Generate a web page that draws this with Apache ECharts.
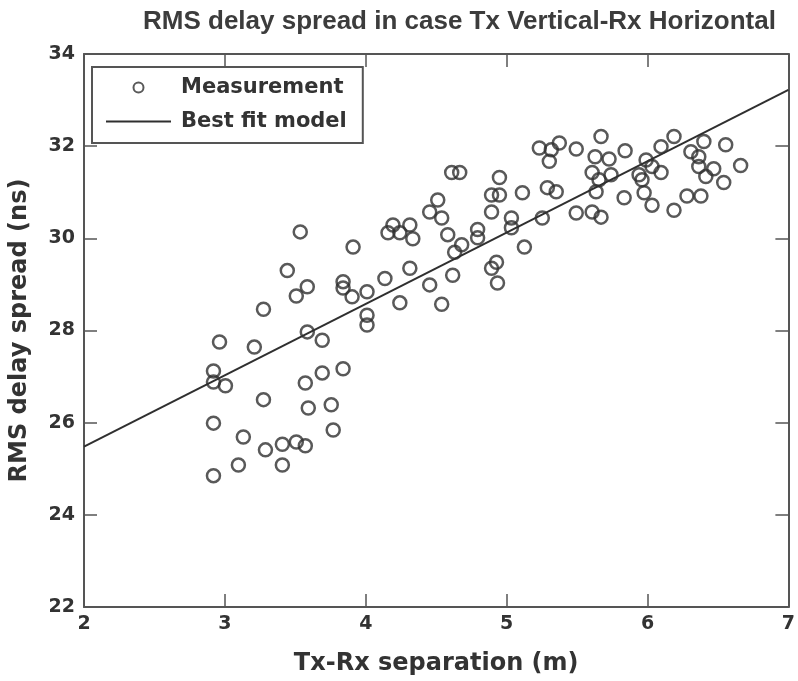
<!DOCTYPE html>
<html><head><meta charset="utf-8">
<script src="https://cdn.jsdelivr.net/npm/echarts@6/dist/echarts.min.js"></script>
<style>html,body{margin:0;padding:0;background:#fff}#c{width:798px;height:681px}</style>
</head><body><div id="c"></div>
<script>
const title = "RMS delay spread in case Tx Vertical-Rx Horizontal";
const xName = "Tx-Rx separation (m)";
const yName = "RMS delay spread (ns)";
const xTicks = [2, 3, 4, 5, 6, 7];
const yTicks = [22, 24, 26, 28, 30, 32, 34];
const measX = [
3.535,3.910,3.443,3.585,3.507,3.839,3.839,3.903,4.009,4.009,4.009,3.274,2.962,3.209,3.585,3.691,
2.919,2.919,3.004,3.274,3.571,3.691,3.839,3.592,3.755,2.919,3.769,3.131,3.288,3.408,3.507,3.571,
3.096,3.408,2.919,
4.610,4.667,4.949,4.893,4.949,4.893,5.112,5.303,5.317,5.289,5.352,4.511,4.454,4.539,4.193,4.313,
4.158,4.242,4.334,4.582,4.794,4.794,5.034,5.034,4.681,4.631,5.253,5.126,4.313,4.136,4.928,4.893,
4.935,4.617,4.454,4.242,4.539,
5.232,5.374,5.494,5.670,5.628,5.727,5.841,5.607,5.656,5.741,5.635,5.494,5.607,5.670,5.834,5.990,
6.032,5.940,5.961,6.096,6.188,6.096,5.976,6.032,6.188,6.308,6.364,6.400,6.364,6.414,6.470,6.541,
6.555,6.280,6.379,6.661
];
const measY = [
30.14,29.81,29.30,28.95,28.75,29.06,28.92,28.73,28.84,28.33,28.12,28.46,27.75,27.64,27.97,27.79,
27.12,26.88,26.80,26.50,26.86,27.08,27.17,26.32,26.39,25.99,25.84,25.69,25.41,25.53,25.58,25.50,
25.08,25.08,24.85,
31.43,31.43,31.32,30.94,30.94,30.57,30.99,31.67,31.92,31.10,31.01,30.83,30.57,30.44,30.29,30.29,
30.12,30.12,29.99,30.08,30.19,30.01,30.44,30.23,29.86,29.70,30.44,29.81,29.35,29.13,29.48,29.35,
29.03,29.20,28.99,28.60,28.57,
31.96,32.07,31.94,32.21,31.77,31.72,31.90,31.43,31.27,31.38,31.01,30.55,30.57,30.46,30.88,31.70,
31.56,31.38,31.27,31.99,32.21,31.43,30.99,30.72,30.61,31.88,31.77,32.10,31.56,31.34,31.51,31.21,
32.03,30.92,30.92,31.58
];
const fitX = [2, 7];
const fitY = [25.48, 33.22];

const txt = '#333';
const wide = '"DejaVu Sans", Verdana, sans-serif';
const arial = '"Liberation Sans", Arial, sans-serif';
const chart = echarts.init(document.getElementById('c'), null, {renderer: 'canvas'});
const axisCommon = {
  axisLine: {show: true, onZero: false, lineStyle: {color: '#555', width: 2}},
  axisTick: {show: true, inside: true, length: 13, lineStyle: {color: '#555', width: 1.5}},
  splitLine: {show: false}
};
chart.setOption({
  animation: false,
  backgroundColor: '#fff',
  title: {text: title, left: 138, top: 4,
    textStyle: {fontFamily: arial, fontWeight: 'bold', fontSize: 26, color: '#3c3c3c'}},
  grid: {left: 83, right: 8, top: 54, bottom: 74},
  legend: {
    left: 92, top: 67, orient: 'vertical',
    backgroundColor: '#fff', borderColor: '#555', borderWidth: 2,
    padding: [10, 16, 11, 13], itemGap: 13, itemWidth: 65, itemHeight: 10,
    textStyle: {fontFamily: wide, fontWeight: 'bold', fontSize: 21, color: txt, padding: [0, 0, 0, 5]},
    data: [
      {name: 'Measurement'},
      {name: 'Best fit model', itemStyle: {opacity: 0}}
    ]
  },
  xAxis: [
    Object.assign({type: 'value', min: 2, max: 7, interval: 1, position: 'bottom',
      name: xName, nameLocation: 'middle', nameGap: 45,
      nameTextStyle: {fontFamily: wide, fontWeight: 'bold', fontSize: 24, color: txt},
      axisLabel: {fontFamily: wide, fontWeight: 'bold', fontSize: 19, color: txt, margin: 8,
        formatter: v => xTicks.includes(v) ? String(v) : ''}}, axisCommon),
    Object.assign({type: 'value', min: 2, max: 7, interval: 1, position: 'top',
      axisLabel: {show: false}}, axisCommon)
  ],
  yAxis: [
    Object.assign({type: 'value', min: 22, max: 34, interval: 2, position: 'left',
      name: yName, nameLocation: 'middle', nameGap: 52,
      nameTextStyle: {fontFamily: wide, fontWeight: 'bold', fontSize: 24, color: txt},
      axisLabel: {fontFamily: wide, fontWeight: 'bold', fontSize: 19, color: txt, margin: 9,
        formatter: v => yTicks.includes(v) ? String(v) : ''}}, axisCommon),
    Object.assign({type: 'value', min: 22, max: 34, interval: 2, position: 'right',
      axisLabel: {show: false}}, axisCommon)
  ],
  series: [
    {name: 'Measurement', type: 'scatter', symbol: 'circle', symbolSize: 13,
      itemStyle: {color: 'rgba(255,255,255,0)', borderColor: '#2f2f2f', borderWidth: 2.5},
      data: measX.map((x, i) => [x, measY[i]]), z: 3},
    {name: 'Best fit model', type: 'line', symbol: 'none', showSymbol: false,
      itemStyle: {color: '#2f2f2f'},
      lineStyle: {color: '#2f2f2f', width: 2},
      data: fitX.map((x, i) => [x, fitY[i]]), z: 2}
  ]
});
</script></body></html>
